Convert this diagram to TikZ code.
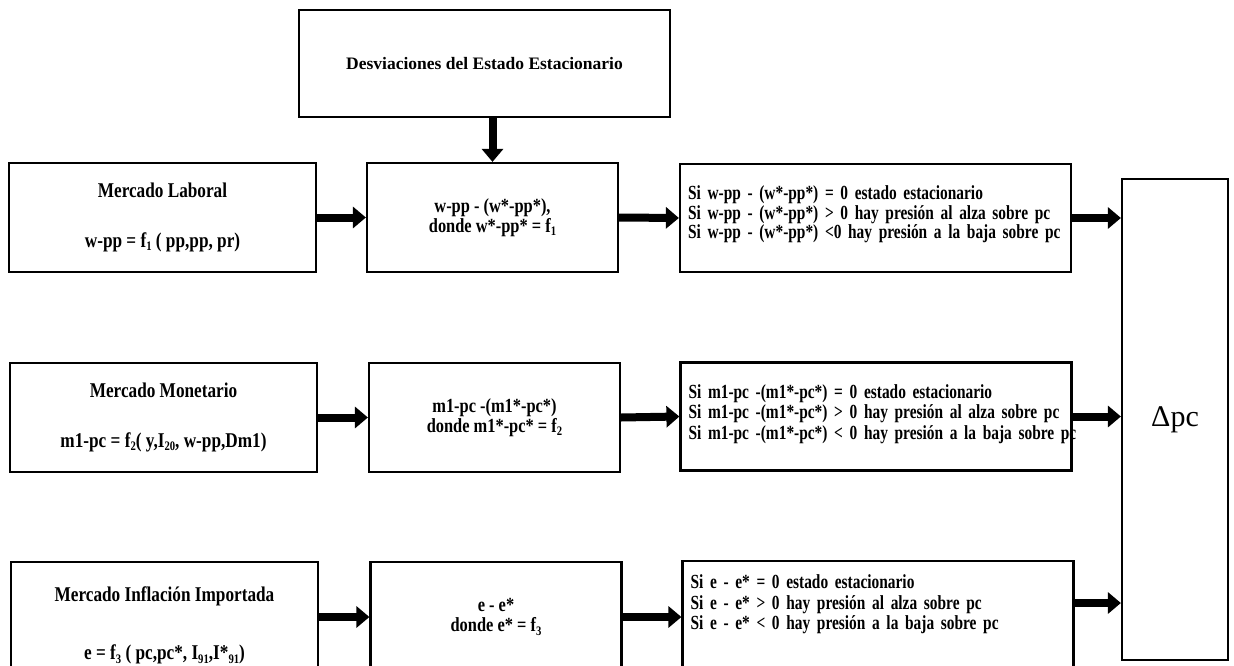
\documentclass[tikz,border=0pt]{standalone}
\usepackage{fontspec}
\usetikzlibrary{arrows.meta}
\newfontfamily\condfont[FakeStretch=0.82]{Liberation Serif}
\newfontfamily\condfontb[FakeStretch=0.77, WordSpace=0.6]{Liberation Serif}
\newfontfamily\plainfont{Liberation Serif}
\newcommand\mysub[1]{\raisebox{-0.35ex}{\fontsize{13}{13}\selectfont #1}}
\tikzset{
  box/.style={draw=black, line width=2.2pt, fill=white, rectangle, inner sep=0pt},
  lbox/.style={box, minimum width=307pt, minimum height=109pt, align=center,
    font=\condfont\bfseries\fontsize{21}{24}\selectfont},
  mbox/.style={box, minimum width=251pt, minimum height=109pt, align=center,
    font=\condfont\bfseries\fontsize{20}{20}\selectfont},
  rbox/.style={box, minimum width=391pt, minimum height=108pt, text width=375pt,
    inner xsep=8pt, align=left,
    font=\condfontb\bfseries\fontsize{20}{19.5}\selectfont},
  arr/.style={line width=8pt, -{Triangle[length=13pt,width=21pt]}}
}
\begin{document}
\begin{tikzpicture}[x=1pt,y=-1pt]
\useasboundingbox (0,0) rectangle (1234,666);
\clip (0,0) rectangle (1234,666);
% top
\node[box, minimum width=371pt, minimum height=107pt,
  font=\plainfont\bfseries\fontsize{17.5}{20}\selectfont] (top) at (484.5,63.5)
  {Desviaciones del Estado Estacionario};
% row 1
\node[lbox] (l1) at (162.5,217.5) {Mercado Laboral\\[26pt]w-pp = f\mysub{1} ( pp,pp, pr)};
\node[mbox] (m1) at (492.5,217.5) {w-pp - (w*-pp*),\\donde w*-pp* = f\mysub{1}};
\node[rbox] (r1) at (875.5,218) {\mbox{Si w-pp - (w*-pp*) = 0 estado estacionario}\\
  \mbox{Si w-pp - (w*-pp*) > 0 hay presión al alza sobre pc}\\
  \mbox{Si w-pp - (w*-pp*) <0 hay presión a la baja sobre pc}\\[-8pt]\mbox{}};
% row 2
\node[lbox] (l2) at (163.5,417.5) {Mercado Monetario\\[26pt]m1-pc = f\mysub{2}( y,I\mysub{20}, w-pp,Dm1)};
\node[mbox] (m2) at (494.5,417.5) {m1-pc -(m1*-pc*)\\donde m1*-pc* = f\mysub{2}};
\node[rbox] (r2) at (876,416.5) {\mbox{Si m1-pc -(m1*-pc*) = 0 estado estacionario}\\[1pt]
  \mbox{Si m1-pc -(m1*-pc*) > 0 hay presión al alza sobre pc}\\[1pt]
  \mbox{Si m1-pc -(m1*-pc*) < 0 hay presión a la baja sobre pc}\\[-10pt]\mbox{}};
% row 3
\node[lbox, minimum height=110pt] (l3) at (164.5,617) {\mbox{}\\[8pt]Mercado Inflación Importada\\[34pt]e = f\mysub{3} ( pc,pc*, I\mysub{91},I*\mysub{91})};
\node[mbox, minimum height=110pt] (m3) at (496,617) {e - e*\\donde e* = f\mysub{3}};
\node[rbox, minimum height=110pt] (r3) at (878,616) {\mbox{Si e - e* = 0 estado estacionario}\\[1pt]
  \mbox{Si e - e* > 0 hay presión al alza sobre pc}\\[1pt]
  \mbox{Si e - e* < 0 hay presión a la baja sobre pc}\\[8pt]\mbox{}};
% delta pc
\node[box, minimum width=106pt, minimum height=481pt,
  font=\plainfont\fontsize{30}{32}\selectfont] (d) at (1175,419.5) {Δpc};
% arrows
\coordinate (ta) at (494,117);
\draw[arr] (ta -| m1.north) -- (m1.north);
\draw[arr] (l1.east) -- (m1.west);
\draw[arr] (m1.east) -- (r1.west);
\draw[arr] (r1.east) -- (r1.east -| d.west);
\draw[arr] (l2.east) -- (m2.west);
\draw[arr] (m2.east) -- (r2.west);
\draw[arr] (r2.east) -- (r2.east -| d.west);
\draw[arr] (l3.east) -- (m3.west);
\draw[arr] (m3.east) -- (m3.east -| r3.west);
\coordinate (r3o) at (r3.east |- 0,603);
\draw[arr] (r3o) -- (r3o -| d.west);
\end{tikzpicture}
\end{document}
